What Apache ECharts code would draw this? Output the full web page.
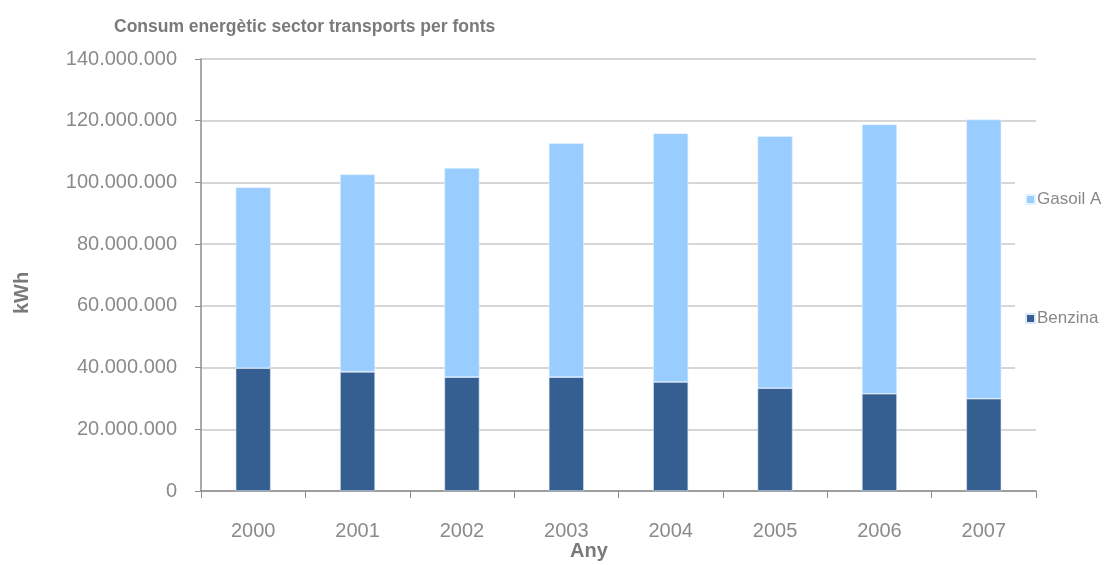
<!DOCTYPE html>
<html>
<head>
<meta charset="utf-8">
<script src="https://cdn.jsdelivr.net/npm/echarts@6/dist/echarts.min.js"></script>
<style>
html, body { margin: 0; padding: 0; background: #fff; }
#main { width: 1106px; height: 565px; }
</style>
</head>
<body>
<div id="main"></div>
<script>
var years = ['2000', '2001', '2002', '2003', '2004', '2005', '2006', '2007'];
var benzina = [39800000, 38600000, 36900000, 36900000, 35300000, 33300000, 31500000, 29900000];
var gasoil = [58600000, 64000000, 67800000, 75800000, 80600000, 81700000, 87300000, 90500000];

// 140000000 -> 140.000.000
function dots(v) {
	return String(v).replace(/\B(?=(\d{3})+(?!\d))/g, '.');
}

var font = 'Liberation Sans, Arial, sans-serif';
var chart = echarts.init(document.getElementById('main'));
chart.setOption({
	animation: false,
	textStyle: { fontFamily: font },
	title: {
		text: 'Consum energètic sector transports per fonts',
		left: 109,
		top: 13,
		textStyle: { fontSize: 17.5, fontWeight: 'bold', color: '#7a7a7a', fontFamily: font }
	},
	grid: { left: 201, right: 70, top: 59, bottom: 74 },
	legend: {
		orient: 'vertical',
		left: 1015,
		top: 133,
		padding: [58, 4, 90, 10],
		backgroundColor: '#fff',
		itemWidth: 9,
		itemHeight: 9,
		itemGap: 102,
		icon: 'rect',
		data: ['Gasoil A', 'Benzina'],
		textStyle: { fontSize: 17, color: '#888', padding: [0, 0, 0, -3] }
	},
	xAxis: {
		type: 'category',
		data: years,
		axisLine: { lineStyle: { color: '#8c8c8c', width: 1.5 } },
		axisTick: { show: true, length: 7, lineStyle: { color: '#8c8c8c' } },
		axisLabel: { margin: 30, fontSize: 20, color: '#8a8a8a' }
	},
	yAxis: {
		type: 'value',
		min: 0,
		max: 140000000,
		interval: 20000000,
		axisLine: { show: true, lineStyle: { color: '#8c8c8c', width: 1.5 } },
		axisTick: { show: true, length: 6, lineStyle: { color: '#8c8c8c' } },
		axisLabel: { margin: 24, fontSize: 20, color: '#8a8a8a', formatter: dots },
		splitLine: { lineStyle: { color: '#c8c8c8', width: 1.5 } }
	},
	graphic: [
		{
			type: 'text',
			left: 570,
			top: 541,
			style: { text: 'Any', fontSize: 20, fontWeight: 'bold', fill: '#7a7a7a', fontFamily: font }
		},
		{
			type: 'text',
			x: 12,
			y: 314,
			rotation: Math.PI / 2,
			style: { text: 'kWh', fontSize: 20, fontWeight: 'bold', fill: '#7a7a7a', fontFamily: font }
		}
	],
	series: [
		{
			name: 'Benzina',
			type: 'bar',
			stack: 'total',
			barWidth: 35,
			data: benzina,
			itemStyle: { color: '#355f91', borderColor: '#dbe8f6', borderWidth: 0.6 }
		},
		{
			name: 'Gasoil A',
			type: 'bar',
			stack: 'total',
			barWidth: 35,
			data: gasoil,
			itemStyle: { color: '#99ccff', borderColor: '#e6f2ff', borderWidth: 0.6 }
		}
	]
});
</script>
</body>
</html>
